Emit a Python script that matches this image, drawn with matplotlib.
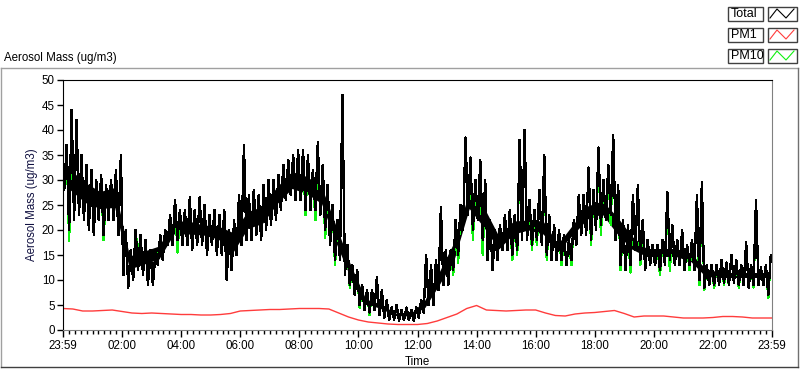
import matplotlib
matplotlib.use("Agg")
import matplotlib.pyplot as plt
import numpy as np
from matplotlib.patches import Rectangle
from matplotlib.lines import Line2D

plt.rcParams['font.family'] = ['Liberation Sans', 'DejaVu Sans']
plt.rcParams['font.size'] = 8.3

# Total aerosol mass, high / low reading per 10 minute bin (ug/m3), 144 bins
total_hi = [37, 44, 42, 35, 33, 32,
            30, 31, 29, 30, 32, 35,
            20, 16, 20, 19, 18, 16,
            15, 19, 20, 23, 26, 24,
            24, 26.5, 24, 26.5, 25, 23,
            24, 23, 24, 20, 22, 27,
            37, 27, 28, 27, 29, 30,
            30, 31, 33, 34, 35, 36,
            36, 35, 32, 37.5, 33, 29,
            25, 22, 47, 17, 13, 12,
            9, 8, 8, 10.5, 8, 6,
            4.5, 5, 4, 4.5, 4, 4.5,
            6, 15, 13, 14, 24.5, 16,
            16, 22, 25, 38.5, 34.5, 30,
            34, 30, 22, 20, 21, 23,
            24, 23, 38, 40, 26, 24,
            28, 35, 23, 21, 20, 19,
            18, 22, 27, 27, 32.5, 28,
            36.5, 30, 33, 39, 29, 22,
            21, 27, 29, 22, 18, 17,
            17, 18, 27.5, 21, 18, 20,
            17, 18, 27, 29.5, 13, 13,
            13, 14, 13.5, 15, 14, 13,
            17.5, 13, 26, 12.5, 13, 15]
total_lo = [28, 20, 22, 23, 22, 20,
            19, 22, 19, 22, 22, 19,
            11, 8.5, 10, 12, 11, 9,
            9, 13, 14, 17, 17, 18,
            17, 17, 16, 17, 17, 15,
            17, 15, 15, 10, 12, 15,
            17, 18, 18, 19, 18, 20,
            21, 22, 24, 26, 27, 26,
            26, 24, 24, 24, 23, 20,
            17, 14, 14, 11, 9, 7,
            5, 4, 3.5, 4, 3, 2.5,
            2, 2, 1.8, 2, 2, 1.8,
            2.5, 3.5, 5, 5, 8, 9,
            9, 12, 15, 20, 23, 20,
            22, 18, 14, 12, 14, 16,
            16, 15, 16, 18, 18, 17,
            18, 17, 15, 14, 14, 14,
            13, 14, 17, 19, 19, 18,
            20, 21, 22, 23, 18, 13,
            12, 13, 16, 14, 12, 13,
            13, 12, 13, 14, 13, 13,
            12, 13, 12, 10, 8.5, 9,
            9, 9, 9.5, 9, 9.5, 9,
            9, 8.5, 9, 9, 9, 7]

# densest part of the Total trace, per half hour (48 values)
core_lo = [28, 25.5, 24.3, 24.5, 12.2, 13.2, 14.2, 19.2, 19.2, 19, 18.2, 15.5,
           20.3, 21.3, 25.3, 28.3, 27.3, 25.3, 17.3, 10.2, 5.3, 4.3, 2.9, 2.8,
           4.5, 9.2, 14.3, 24.3, 20.5, 16.2, 19.2, 20, 19.2, 15.8, 19, 22.2,
           23.2, 19.3, 16.2, 14.7, 14.7, 14.7, 13.7, 10.7, 10.5, 10.5, 10.5, 10.5]
core_hi = [32, 29.5, 27.7, 28.5, 14.8, 15.8, 16.8, 21.8, 21.8, 21, 20.8, 19.5,
           23.7, 24.7, 28.7, 31.7, 30.7, 28.7, 20.7, 12.8, 6.2, 5.2, 3.4, 3.2,
           6, 11.8, 17.7, 27.7, 24.5, 18.8, 21.8, 22, 21.8, 17.2, 21, 24.8,
           25.8, 22.7, 18.8, 16.3, 16.3, 16.3, 15.3, 12.3, 11.5, 11.5, 11.5, 11.5]

# PM10 follows Total except at these bins, where it reads lower
pm10_bins = [1, 8, 15, 19, 23, 49, 51, 53, 55, 58, 60, 62, 79, 80, 83, 85,
             91, 92, 95, 96, 98, 101, 103, 107, 109, 111, 113, 115, 117,
             121, 123, 127, 129, 130, 132, 134, 137, 140, 143]
pm10_vals = [17.8, 18, 14, 13.5, 15.5, 23, 22, 18.5, 13, 8.5, 4.5, 3, 11,
             13.5, 18, 15, 14, 15, 16, 17, 14, 13, 13, 17, 19, 21, 12, 11.5,
             13, 11, 11.8, 12, 9, 8, 8.5, 9, 8.5, 8.5, 6.5]

# PM1, every 20 minutes
pm1 = [4.3, 4.2, 3.8, 3.8, 3.9, 4.0, 3.7, 3.4, 3.3, 3.4, 3.3, 3.2,
       3.1, 3.1, 3.0, 3.0, 3.1, 3.3, 3.8, 3.9, 4.0, 4.1, 4.1, 4.2,
       4.3, 4.3, 4.3, 4.2, 3.4, 2.6, 2.0, 1.6, 1.4, 1.2, 1.1, 1.1,
       1.1, 1.3, 1.8, 2.5, 3.2, 4.3, 4.9, 4.0, 3.9, 3.8, 3.9, 4.0,
       4.0, 3.4, 2.9, 2.8, 3.2, 3.4, 3.5, 3.7, 3.9, 3.3, 2.6, 2.8,
       2.8, 2.8, 2.6, 2.4, 2.4, 2.4, 2.5, 2.7, 2.7, 2.6, 2.4, 2.4, 2.4]

tick_labels = ['23:59', '02:00', '04:00', '06:00', '08:00', '10:00', '12:00',
               '14:00', '16:00', '18:00', '20:00', '22:00', '23:59']

# build series (hours since 23:59)
nb = len(total_hi)
t = np.empty(2 * nb)
t[0::2] = (np.arange(nb) * 10 + 2.5) / 60
t[1::2] = (np.arange(nb) * 10 + 7.5) / 60
total = np.empty(2 * nb)
total[0::2] = total_lo
total[1::2] = total_hi
pm10 = total.copy()
pm10_lo = np.array(total_lo, dtype=float)
pm10_lo[pm10_bins] = pm10_vals
pm10[0::2] = pm10_lo
t_core = (np.arange(len(core_lo)) + 0.5) * 0.5
t_pm1 = np.arange(len(pm1)) * 20 / 60

fig = plt.figure(figsize=(8, 3.69), dpi=100)
W, H = 800, 369


def fx(x):
    return x / W


def fy(y):
    return 1 - y / H


ax = fig.add_axes([fx(63), fy(330), fx(772) - fx(63), fy(80) - fy(330)])
ax.plot(t, pm10, color='#10f010', lw=1.0, antialiased=False)
ax.fill_between(t_core, core_lo, core_hi, color='black', lw=0)
ax.plot(t, total, color='black', lw=1.0, antialiased=False)
ax.plot(t_pm1, pm1, color='#ff3c3c', lw=1.0)

ax.set_xlim(0, 24)
ax.set_ylim(0, 50)
ax.set_xticks(np.arange(0, 25, 2))
ax.set_xticklabels(tick_labels)
ax.set_xticks(np.arange(0, 24.01, 0.2), minor=True)
ax.set_yticks(np.arange(0, 51, 5))
ax.tick_params(axis='x', which='major', length=5, width=1, pad=2, direction='out')
ax.tick_params(axis='x', which='minor', length=3, width=1, direction='out')
ax.tick_params(axis='y', length=4, width=1, pad=2, direction='out')
ax.spines['left'].set_color('black')
ax.spines['top'].set_color('black')
ax.spines['right'].set_color('#808080')
ax.spines['bottom'].set_color('#808080')
ax.set_ylabel('Aerosol Mass (ug/m3)', color='#101040', labelpad=3)
ax.set_xlabel('Time', labelpad=3)

# outer frame and title
fig.add_artist(Line2D([fx(0.5), fx(798)], [fy(68), fy(68)], color='#a0a0a0', lw=1))
fig.add_artist(Line2D([fx(0.5), fx(0.5)], [fy(68), fy(367)], color='#a0a0a0', lw=1))
fig.add_artist(Line2D([fx(798), fx(798)], [fy(68), fy(367)], color='#707070', lw=1))
fig.add_artist(Line2D([fx(0.5), fx(798)], [fy(367), fy(367)], color='#404040', lw=1))
fig.text(fx(4), fy(58), 'Aerosol Mass (ug/m3)', ha='left', va='center')

# legend
names = ['Total', 'PM1', 'PM10']
cols = ['black', '#ff3c3c', '#10f010']
rows = [7, 28, 49]
for name, c, y0 in zip(names, cols, rows):
    fig.add_artist(Rectangle((fx(728), fy(y0 + 14)), fx(35), fy(0) - fy(14),
                             fill=False, ec='#404040', lw=1))
    fig.add_artist(Rectangle((fx(768), fy(y0 + 14)), fx(29), fy(0) - fy(14),
                             fill=False, ec='#404040', lw=1))
    fig.text(fx(730.5), fy(y0 + 7), name, ha='left', va='center', fontsize=9)
    fig.add_artist(Line2D([fx(770), fx(777), fx(786), fx(794)],
                          [fy(y0 + 11), fy(y0 + 2), fy(y0 + 11), fy(y0 + 2)],
                          color=c, lw=0.8))

fig.savefig('out.png', dpi=100)
